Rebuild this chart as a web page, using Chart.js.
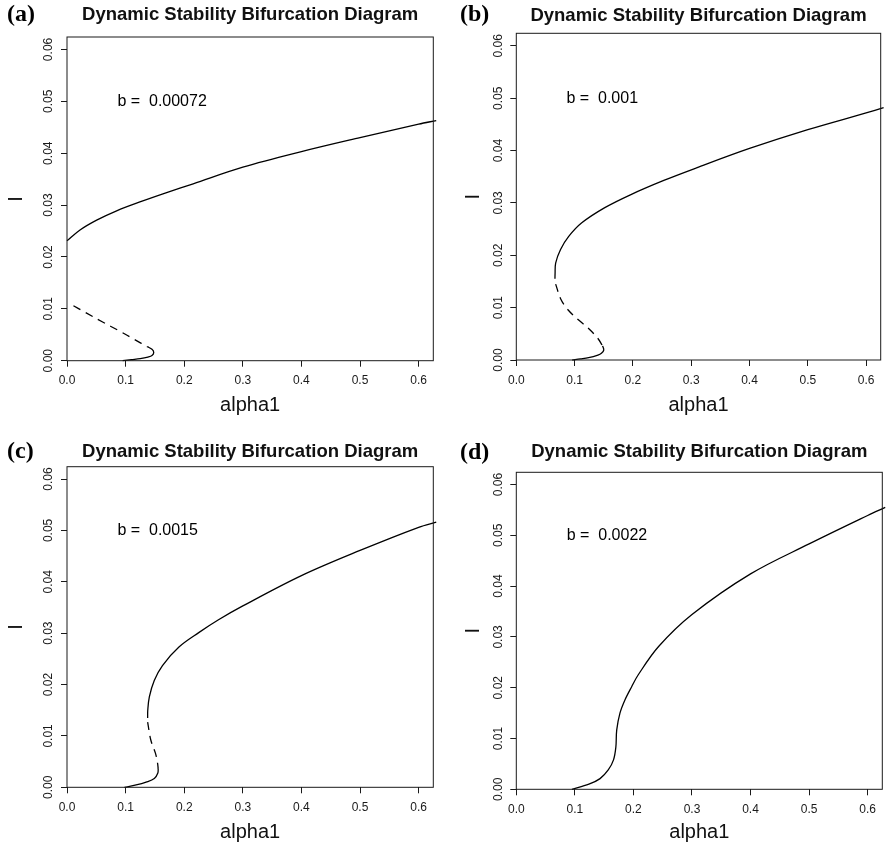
<!DOCTYPE html>
<html>
<head>
<meta charset="utf-8">
<script src="https://cdn.jsdelivr.net/npm/chart.js@4.4.1/dist/chart.umd.min.js"></script>
<style>
  body { margin: 0; background: #fff; }
  #fig { position: relative; width: 886px; height: 847px; }
  #fig canvas { position: absolute; }
</style>
</head>
<body>
<div id="fig">
  <canvas id="chartA" width="443" height="420" style="left:0;top:0"></canvas>
  <canvas id="chartB" width="443" height="420" style="left:443px;top:0"></canvas>
  <canvas id="chartC" width="443" height="427" style="left:0;top:420px"></canvas>
  <canvas id="chartD" width="443" height="427" style="left:443px;top:420px"></canvas>
</div>
<script>
// axis ticks
const xTicks = [0, 0.1, 0.2, 0.3, 0.4, 0.5, 0.6];
const yTicks = [0, 0.01, 0.02, 0.03, 0.04, 0.05, 0.06];
const xMax = 0.625;
const yMax = 0.0624;

const panelTags = ['(a)', '(b)', '(c)', '(d)'];
const bValues = ['0.00072', '0.001', '0.0015', '0.0022'];
const bLabelAt = [0.086, 0.05];

// (a) b = 0.00072
const aUpperX = [0, 0.0222, 0.0506, 0.0847, 0.1244, 0.17, 0.2153, 0.3, 0.4, 0.5, 0.6, 0.63];
const aUpperY = [0.0231, 0.0252, 0.0271, 0.0289, 0.0306, 0.0324, 0.0341, 0.0373, 0.0403, 0.0430, 0.0456, 0.0463];
const aDashX = [0.011, 0.03, 0.06, 0.09, 0.115, 0.137];
const aDashY = [0.0106, 0.0094, 0.0075, 0.0057, 0.0041, 0.0027];
const aLowX = [0.137, 0.145, 0.148, 0.145, 0.138, 0.125, 0.11, 0.095];
const aLowY = [0.0027, 0.0022, 0.0016, 0.0010, 0.0007, 0.0004, 0.0002, 0];

// (b) b = 0.001
const bUpperX = [0.0663, 0.0665, 0.0675, 0.0759, 0.0899, 0.1123, 0.1518, 0.1966, 0.253, 0.3091, 0.4, 0.5, 0.6, 0.63];
const bUpperY = [0.0155, 0.0165, 0.0185, 0.0211, 0.0236, 0.0262, 0.0291, 0.0316, 0.0343, 0.0367, 0.0404, 0.0440, 0.0472, 0.0482];
const bDashX = [0.0675, 0.076, 0.087, 0.104, 0.124, 0.14, 0.148];
const bDashY = [0.0145, 0.0117, 0.0098, 0.0079, 0.0060, 0.0041, 0.0027];
const bLowX = [0.148, 0.15, 0.146, 0.14, 0.124, 0.11, 0.096];
const bLowY = [0.0027, 0.0019, 0.0013, 0.00095, 0.00044, 0.0002, 0];

// (c) b = 0.0015
const cUpperX = [0.1376, 0.1378, 0.1405, 0.1489, 0.1629, 0.191, 0.2248, 0.2585, 0.3, 0.4, 0.5, 0.6, 0.63];
const cUpperY = [0.0135, 0.0150, 0.0176, 0.0208, 0.0237, 0.0273, 0.0301, 0.0326, 0.0353, 0.0412, 0.0461, 0.0506, 0.0516];
const cDashX = [0.1376, 0.143, 0.151, 0.1545, 0.1556];
const cDashY = [0.0127, 0.0092, 0.0066, 0.0047, 0.0036];
const cLowX = [0.1556, 0.155, 0.149, 0.135, 0.118, 0.098];
const cLowY = [0.0036, 0.0028, 0.0017, 0.001, 0.00045, 0];

// (d) b = 0.0022
const dX = [0.095, 0.124, 0.143, 0.157, 0.166, 0.170, 0.1715, 0.177, 0.1855, 0.197, 0.208, 0.243, 0.3, 0.4, 0.5, 0.6, 0.63];
const dY = [0, 0.001, 0.0021, 0.0038, 0.0058, 0.0083, 0.0117, 0.015, 0.0176, 0.0202, 0.0225, 0.0281, 0.0344, 0.0424, 0.0483, 0.0539, 0.0555];

const branches = [
  [[aUpperX, aUpperY, false], [aDashX, aDashY, true], [aLowX, aLowY, false]],
  [[bUpperX, bUpperY, false], [bDashX, bDashY, true], [bLowX, bLowY, false]],
  [[cUpperX, cUpperY, false], [cDashX, cDashY, true], [cLowX, cLowY, false]],
  [[dX, dY, false]]
];

// where each panel sits inside its canvas (plot box, title, tags)
const layouts = [
  { id: 'chartA', left: 67, top: 37, right: 9.7, xH: 59.3, titleTop: 3.9, titleBottom: 10.9, yTitlePad: 4.5, tagX: 7, tagY: 15 },
  { id: 'chartB', left: 73.3, top: 33.3, right: 5.3, xH: 60, titleTop: 4.4, titleBottom: 6.7, yTitlePad: 18, tagX: 17, tagY: 15 },
  { id: 'chartC', left: 67, top: 46.7, right: 9.7, xH: 59.7, titleTop: 21.2, titleBottom: 3.3, yTitlePad: 4.5, tagX: 7, tagY: 32 },
  { id: 'chartD', left: 73.3, top: 52.3, right: 3.7, xH: 57.7, titleTop: 21.2, titleBottom: 8.9, yTitlePad: 18, tagX: 17, tagY: 33 }
];

const sans = '"Liberation Sans", Arial, Helvetica, sans-serif';
const ink = '#1a1a1a';

const extras = {
  id: 'extras',
  afterDraw(chart, args, opts) {
    const { ctx, chartArea: a, scales: { x, y } } = chart;
    ctx.save();
    // plot box
    ctx.strokeStyle = ink;
    ctx.lineWidth = 1;
    ctx.strokeRect(a.left, a.top, a.right - a.left, a.bottom - a.top);
    // vertical y tick labels, R style
    ctx.fillStyle = ink;
    ctx.font = '12px ' + sans;
    ctx.textAlign = 'center';
    ctx.textBaseline = 'middle';
    y.ticks.forEach(t => {
      ctx.save();
      ctx.translate(a.left - 18, y.getPixelForValue(t.value));
      ctx.rotate(-Math.PI / 2);
      ctx.fillText(t.value.toFixed(2), 0, 0);
      ctx.restore();
    });
    // panel tag
    ctx.textAlign = 'left';
    ctx.fillStyle = '#000';
    ctx.font = 'bold 24px "Liberation Serif", "Times New Roman", serif';
    ctx.fillText(opts.tag, opts.tagX, opts.tagY);
    // b label
    ctx.font = '16px ' + sans;
    ctx.fillText('b =  ' + opts.b, x.getPixelForValue(bLabelAt[0]), y.getPixelForValue(bLabelAt[1]));
    ctx.restore();
  }
};

layouts.forEach((L, i) => {
  const datasets = branches[i].map(([xs, ys, dashed]) => ({
    data: xs.map((v, k) => ({ x: v, y: ys[k] })),
    showLine: true,
    borderColor: '#000',
    borderWidth: 1.3,
    borderDash: dashed ? [8, 6] : [],
    pointRadius: 0,
    tension: 0.35,
    clip: 4
  }));

  new Chart(document.getElementById(L.id), {
    type: 'scatter',
    data: { datasets },
    plugins: [extras],
    options: {
      responsive: false,
      animation: false,
      layout: { padding: { left: 0, top: 0, right: L.right, bottom: 0 } },
      plugins: {
        legend: { display: false },
        tooltip: { enabled: false },
        title: {
          display: true,
          fullSize: false,
          text: 'Dynamic Stability Bifurcation Diagram',
          color: '#111',
          font: { family: sans, size: 18.5, weight: 'bold' },
          padding: { top: L.titleTop, bottom: L.titleBottom }
        },
        extras: { tag: panelTags[i], b: bValues[i], tagX: L.tagX, tagY: L.tagY }
      },
      scales: {
        x: {
          type: 'linear',
          min: 0,
          max: xMax,
          afterBuildTicks: s => { s.ticks = xTicks.map(v => ({ value: v })); },
          afterFit: s => { s.height = L.xH; },
          grid: { drawOnChartArea: false, drawTicks: true, tickLength: 6, color: ink },
          border: { display: false },
          ticks: {
            autoSkip: false,
            maxRotation: 0,
            padding: 7,
            color: ink,
            font: { family: sans, size: 12 },
            callback: v => Number(v).toFixed(1)
          },
          title: {
            display: true,
            text: 'alpha1',
            color: '#111',
            font: { family: sans, size: 20 },
            padding: { top: 0, bottom: 3 }
          }
        },
        y: {
          type: 'linear',
          min: 0,
          max: yMax,
          afterBuildTicks: s => { s.ticks = yTicks.map(v => ({ value: v })); },
          afterFit: s => { s.width = L.left; },
          grid: { drawOnChartArea: false, drawTicks: true, tickLength: 6, color: ink },
          border: { display: false },
          ticks: { display: false },
          title: {
            display: true,
            text: 'I',
            color: '#111',
            font: { family: sans, size: 20 },
            padding: { top: L.yTitlePad, bottom: 0 }
          }
        }
      }
    }
  });
});
</script>
</body>
</html>
